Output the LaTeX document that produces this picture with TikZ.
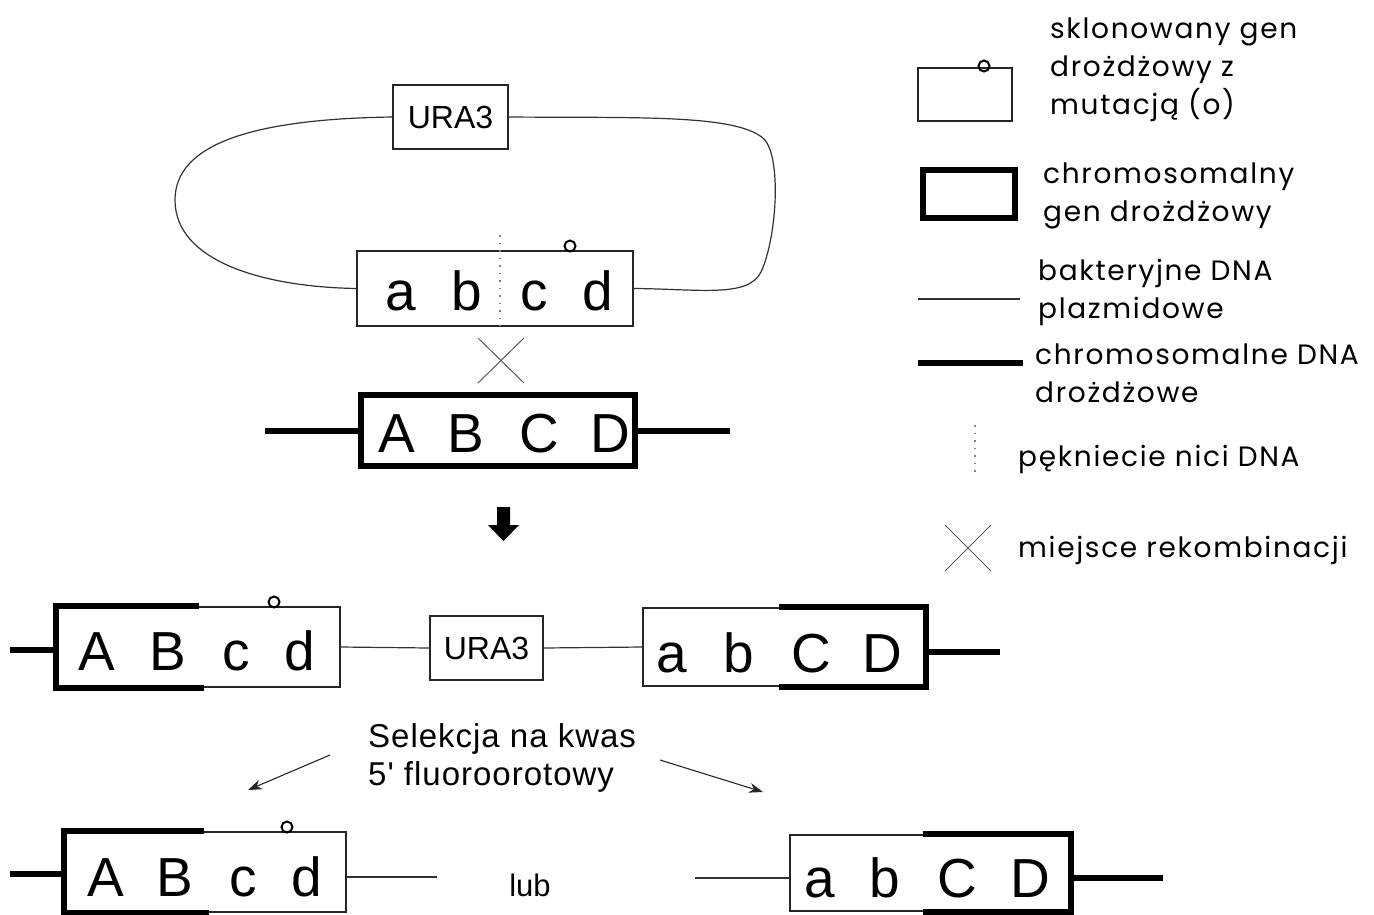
\documentclass[tikz,border=0pt]{standalone}
\usepackage{fontspec}
\setmainfont{Liberation Sans}
\newfontfamily\legendfont[LetterSpace=6]{Poppins}
\newfontfamily\selfont[Ligatures=TeXOff, LetterSpace=3]{Liberation Sans}
\usetikzlibrary{arrows.meta}

\begin{document}
\begin{tikzpicture}[x=1pt,y=-1pt,
  gene/.style={draw=black!85, line width=1.3pt, inner sep=0pt},
  chrbox/.style={draw, line width=6pt, inner sep=0pt},
  letter/.style={font=\fontsize{55}{60}\selectfont, anchor=base, inner sep=0pt},
  uratext/.style={font=\fontsize{32}{34}\selectfont},
  thinline/.style={line width=1.2pt, black!80},
  thickline/.style={line width=6pt},
  mut/.style={circle, draw, line width=2pt, minimum size=11pt, inner sep=0pt},
  cross/.style={line width=1pt, black!65},
  nick/.style={line width=1.2pt, black!50, dash pattern=on 1.5pt off 6pt},
  legtext/.style={font=\legendfont\fontsize{28}{38}\selectfont, anchor=base west, align=left, inner sep=0pt},
  seltext/.style={font=\selfont\fontsize{33}{38}\selectfont, anchor=base west, align=left, inner sep=0pt},
  selarrow/.style={line width=1.1pt, black!85, -{Stealth[length=14pt, width=10pt]}}
]
\useasboundingbox (0,0) rectangle (1374,914);

% ---------- plasmid with cloned mutant gene ----------
\node[gene, minimum width=115pt, minimum height=64pt] (ura1) at (450.5,117) {};
\node[uratext] (ura1t) at (ura1.center) {URA3};
\node[gene, minimum width=276pt, minimum height=75pt] (pl) at (495,288.5) {};
\node[letter] (pla) at (401,310) {a};
\node[letter] (plb) at (467,310) {b};
\node[letter] (plc) at (534,310) {c};
\node[letter] (pld) at (598,310) {d};
\node[mut] (plm) at (570,246) {};
\coordinate (nickT) at (500,235);
\coordinate (nickB) at (500,326);
\draw[nick] (nickT) -- (nickB);
% plasmid backbone
\draw[thinline] (ura1.west) .. controls (250,119) and (175,145) .. (175,200)
  .. controls (175,262) and (265,287) .. (pl.west);
\draw[thinline] (ura1.east) .. controls (640,118) and (740,114) .. (765,140)
  .. controls (782,162) and (776,240) .. (761,272)
  .. controls (748,298) and (700,289) .. (pl.east);

% recombination site
\coordinate (x1a) at (478,338);
\coordinate (x1b) at (524,383);
\coordinate (x1c) at (524,338);
\coordinate (x1d) at (478,383);
\draw[cross] (x1a) -- (x1b);
\draw[cross] (x1c) -- (x1d);

% ---------- chromosomal gene ----------
\node[chrbox, minimum width=274pt, minimum height=71pt] (chr) at (498,430.5) {};
\node[letter] (chA) at (397,452) {A};
\node[letter] (chB) at (466,452) {B};
\node[letter] (chC) at (539,452) {C};
\node[letter] (chD) at (610,452) {D};
\coordinate (chrL) at (265,430.5);
\coordinate (chrR) at (730,430.5);
\draw[thickline] (chrL) -- (chr.west);
\draw[thickline] (chr.east) -- (chrR);

% step arrow
\fill (497,507) -- (510,507) -- (510,525) -- (519,525) -- (503.5,541) -- (488,525) -- (497,525) -- cycle;

% ---------- integrated plasmid ----------
\node[gene, minimum width=283pt, minimum height=80pt] (mL) at (198.5,647) {};
\draw[thickline] ([xshift=143pt]mL.north west) -- (mL.north west) -- (mL.south west) -- ([xshift=148pt]mL.south west);
\node[letter] (mLA) at (97,670) {A};
\node[letter] (mLB) at (168,670) {B};
\node[letter] (mLc) at (236,670) {c};
\node[letter] (mLd) at (300,670) {d};
\node[mut] (mLm) at (274,602) {};

\node[gene, minimum width=113pt, minimum height=64pt] (ura2) at (486.5,648) {};
\node[uratext] (ura2t) at (ura2.center) {URA3};

\node[gene, minimum width=282pt, minimum height=78pt] (mR) at (784,647) {};
\draw[thickline] ([xshift=-147pt]mR.north east) -- (mR.north east) -- (mR.south east) -- ([xshift=-147pt]mR.south east);
\node[letter] (mRa) at (672,672) {a};
\node[letter] (mRb) at (739,672) {b};
\node[letter] (mRC) at (811,672) {C};
\node[letter] (mRD) at (882,672) {D};

\coordinate (mLend) at (10,650);
\coordinate (mRend) at (1000,652);
\draw[thickline] (mLend) -- (mL.west |- mLend);
\draw[thinline] (mL.east) -- (ura2.west);
\draw[thinline] (ura2.east) -- (mR.west);
\draw[thickline] (mR.east |- mRend) -- (mRend);

% ---------- selection ----------
\node[seltext] (sel) at (368,785) {Selekcja na kwas\\5' fluoroorotowy};
\coordinate (s1a) at (330,755);
\coordinate (s1b) at (248,790);
\coordinate (s2a) at (660,760);
\coordinate (s2b) at (763,792);
\draw[selarrow] (s1a) -- (s1b);
\draw[selarrow] (s2a) -- (s2b);

% ---------- products ----------
\node[gene, minimum width=281pt, minimum height=80pt] (bL) at (205.5,872) {};
\draw[thickline] ([xshift=140pt]bL.north west) -- (bL.north west) -- (bL.south west) -- ([xshift=145pt]bL.south west);
\node[letter] (bLA) at (106,896) {A};
\node[letter] (bLB) at (175,896) {B};
\node[letter] (bLc) at (243,896) {c};
\node[letter] (bLd) at (307,896) {d};
\node[mut] (bLm) at (287,827) {};
\coordinate (bLend) at (10,874);
\coordinate (bLtail) at (437,877);
\draw[thickline] (bLend) -- (bL.west |- bLend);
\draw[thinline] (bL.east |- bLtail) -- (bLtail);

\node[font=\fontsize{31}{34}\selectfont] (lub) at (530,885) {lub};

\node[gene, minimum width=280pt, minimum height=76pt] (bR) at (930,873) {};
\draw[thickline] ([xshift=-148pt]bR.north east) -- (bR.north east) -- (bR.south east) -- ([xshift=-148pt]bR.south east);
\node[letter] (bRa) at (820,897) {a};
\node[letter] (bRb) at (885,897) {b};
\node[letter] (bRC) at (957,897) {C};
\node[letter] (bRD) at (1030,897) {D};
\coordinate (bRtail) at (695,878);
\coordinate (bRend) at (1163,878);
\draw[thinline] (bRtail) -- (bR.west |- bRtail);
\draw[thickline] (bR.east |- bRend) -- (bRend);

% ---------- legend ----------
\node[gene, minimum width=94pt, minimum height=53pt] (lg1) at (965,94.5) {};
\node[mut] (lg1m) at (984,66) {};
\node[legtext] (lg1t) at (1050,114) {sklonowany gen\\drożdżowy z\\mutacją (o)};

\node[chrbox, minimum width=92pt, minimum height=48pt] (lg2) at (969,194) {};
\node[legtext] (lg2t) at (1043,221) {chromosomalny\\gen drożdżowy};

\coordinate (lg3a) at (918,299);
\coordinate (lg3b) at (1020,299);
\draw[thinline] (lg3a) -- (lg3b);
\node[legtext] (lg3t) at (1038,318) {bakteryjne DNA\\plazmidowe};

\coordinate (lg4a) at (918,363);
\coordinate (lg4b) at (1023,363);
\draw[thickline] (lg4a) -- (lg4b);
\node[legtext] (lg4t) at (1035,402) {chromosomalne DNA\\drożdżowe};

\coordinate (lg5a) at (975,425);
\coordinate (lg5b) at (975,475);
\draw[nick] (lg5a) -- (lg5b);
\node[legtext] (lg5t) at (1018,466) {pękniecie nici DNA};

\coordinate (lg6a) at (945,525);
\coordinate (lg6b) at (991,571);
\coordinate (lg6c) at (991,525);
\coordinate (lg6d) at (945,571);
\draw[cross] (lg6a) -- (lg6b);
\draw[cross] (lg6c) -- (lg6d);
\node[legtext] (lg6t) at (1018,557) {miejsce rekombinacji};

\end{tikzpicture}
\end{document}
